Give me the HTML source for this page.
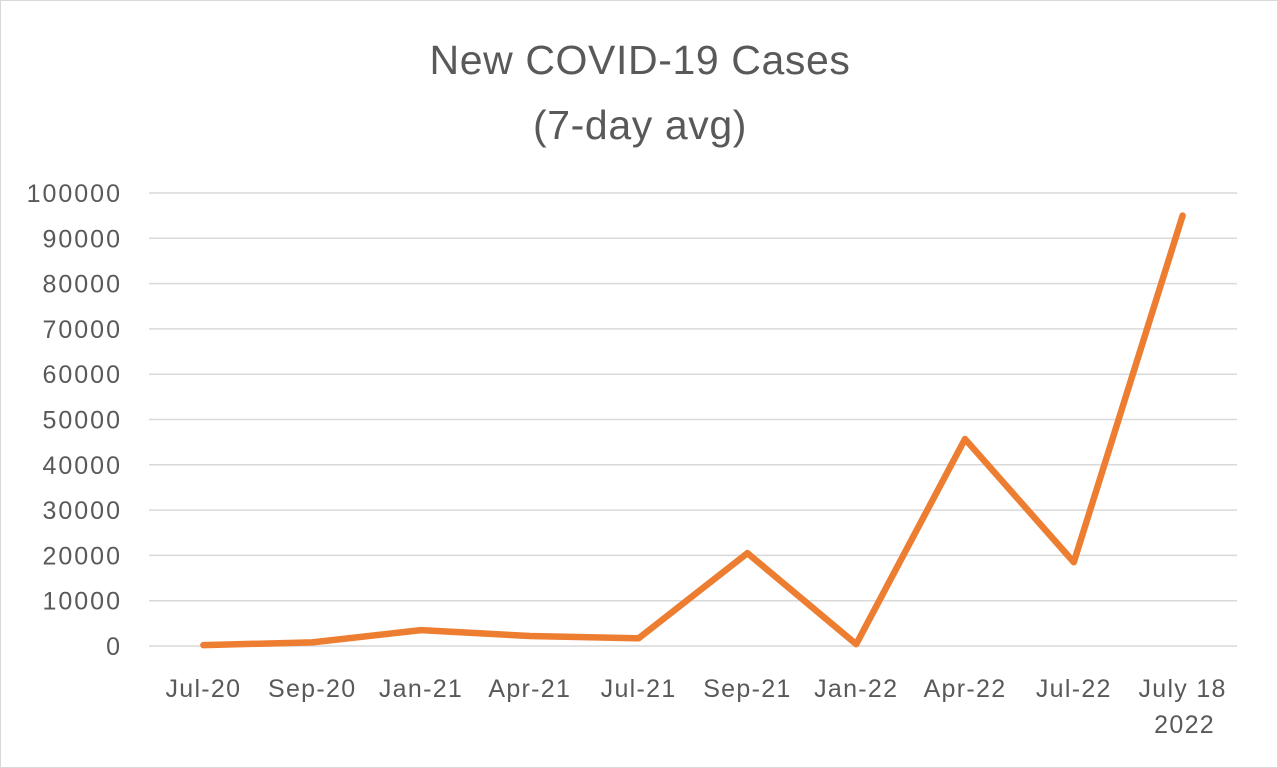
<!DOCTYPE html>
<html><head><meta charset="utf-8"><style>
html,body{margin:0;padding:0;background:#fff;}
svg{display:block;font-family:"Liberation Sans",sans-serif;}
</style></head><body>
<svg id="chart" width="1278" height="768">
<rect x="0.5" y="0.5" width="1277" height="767" fill="#fff" stroke="#d9d9d9"/>
<text x="640" y="74" text-anchor="middle" font-size="41" letter-spacing="0.6" fill="#595959">New COVID-19 Cases</text>
<text x="640" y="139" text-anchor="middle" font-size="41" letter-spacing="0.6" fill="#595959">(7-day avg)</text>
<g id="grid"></g><g id="yt"></g><g id="xt"></g><g id="series"></g>
</svg>
<script>
const categories=["Jul-20","Sep-20","Jan-21","Apr-21","Jul-21","Sep-21","Jan-22","Apr-22","Jul-22","July 18|2022"];
const values=[200,800,3500,2200,1700,20500,400,45700,18500,95000];
const yTicks=[0,10000,20000,30000,40000,50000,60000,70000,80000,90000,100000];
const NS="http://www.w3.org/2000/svg";
const x0=149,x1=1237,yb=646,yt=193,ymax=100000;
const bw=(x1-x0)/categories.length;
const xs=i=>x0+bw*(i+0.5);
const ys=v=>yb-(v/ymax)*(yb-yt);
function mk(t,a,p){const e=document.createElementNS(NS,t);for(const k in a)e.setAttribute(k,a[k]);p.appendChild(e);return e;}
const g=document.getElementById('grid'),gy=document.getElementById('yt'),gx=document.getElementById('xt'),gs=document.getElementById('series');
yTicks.forEach(v=>{
 const l=mk('line',{x1:x0,x2:x1,y1:ys(v),y2:ys(v),stroke:'#d9d9d9','stroke-width':1.5},g);
 
 
 const t=mk('text',{x:122,y:ys(v)+9,'text-anchor':'end','font-size':25,'letter-spacing':2,fill:'#595959'},gy);
 t.textContent=v;
 
 
});
categories.forEach((c,i)=>{
 const parts=c.split('|');
 parts.forEach((p,j)=>{
  const t=mk('text',{x:xs(i)+(parts.length>1&&j==1?2:0),y:697+j*36,'text-anchor':'middle','font-size':25,'letter-spacing':1.3,fill:'#595959'},gx);
  t.textContent=p;
  
  
 });
});
const pl=mk('polyline',{points:values.map((v,i)=>xs(i)+','+ys(v)).join(' '),fill:'none',stroke:'#ed7d31','stroke-width':6.5,'stroke-linejoin':'round','stroke-linecap':'round'},gs);


</script>
</body></html>
